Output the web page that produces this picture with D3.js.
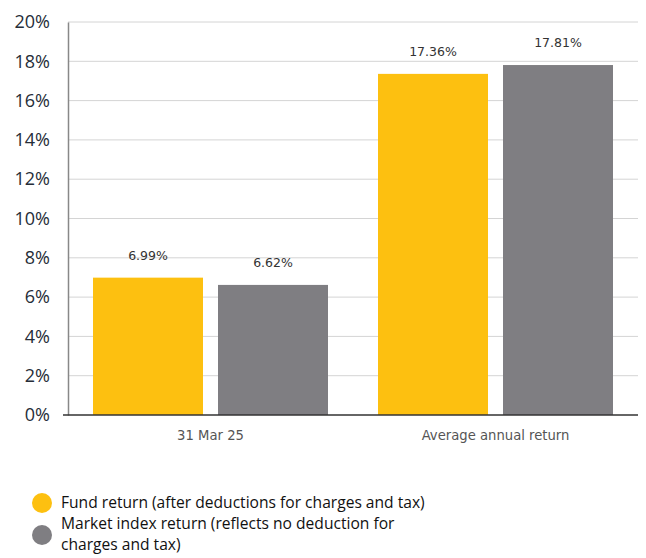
<!DOCTYPE html>
<html><head><meta charset="utf-8">
<script src="https://cdn.jsdelivr.net/npm/d3@7"></script>
<style>body{margin:0;background:#fff}svg{display:block}</style>
</head><body>
<script>
const categories = ["31 Mar 25", "Average annual return"];
const seriesNames = ["Fund return (after deductions for charges and tax)", "Market index return (reflects no deduction for charges and tax)"];
const fundValues = [6.99, 17.36];
const indexValues = [6.62, 17.81];
const yTicks = [0, 2, 4, 6, 8, 10, 12, 14, 16, 18, 20];
const colors = ["#FDC010", "#7F7E82"];

(function(){
const W = 646, H = 558;
const svg = d3.select("body").append("svg").attr("width", W).attr("height", H);
const pl = 68, pr = 638, pt = 22, pb = 415;

const x0 = d3.scaleBand().domain(categories).range([pl, pr]).paddingInner(0).paddingOuter(0);
const x1 = d3.scaleBand().domain([0, 1]).range([25, 260]).paddingInner(0.12);
const y = d3.scaleLinear().domain([0, 20]).range([pb, pt]);

// gridlines
svg.append("g").selectAll("line").data(yTicks.filter(d => d > 0)).join("line")
  .attr("x1", pl).attr("x2", pr)
  .attr("y1", d => y(d)).attr("y2", d => y(d))
  .attr("stroke", "#d4d4d4").attr("stroke-width", 1);

// y-axis
const yAxis = d3.axisLeft(y).tickValues(yTicks).tickFormat(d => d + "%").tickSize(0).tickPadding(18);
const ga = svg.append("g").attr("transform", `translate(${pl},0)`).call(yAxis);
ga.select(".domain").attr("stroke", "#888").attr("stroke-width", 1.5);
ga.selectAll("text").attr("font-family", "'Open Sans', sans-serif").attr("font-size", 18).attr("fill", "#262d38");

const data = categories.map((c, i) => ({cat: c, vals: [fundValues[i], indexValues[i]]}));
const groups = svg.append("g").selectAll("g").data(data).join("g")
  .attr("transform", d => `translate(${x0(d.cat)},0)`);
groups.selectAll("rect").data(d => d.vals.map((v, k) => ({v, k}))).join("rect")
  .attr("x", d => x1(d.k)).attr("width", x1.bandwidth())
  .attr("y", d => y(d.v)).attr("height", d => y(0) - y(d.v))
  .attr("fill", d => colors[d.k]);
groups.selectAll("text.val").data(d => d.vals.map((v, k) => ({v, k}))).join("text")
  .attr("class", "val")
  .attr("x", d => x1(d.k) + x1.bandwidth() / 2).attr("y", d => y(d.v) - 18)
  .attr("text-anchor", "middle")
  .attr("font-family", "'DejaVu Sans', sans-serif").attr("font-size", 12.5).attr("fill", "#333")
  .text(d => d.v.toFixed(2) + "%");

// x-axis
svg.append("line").attr("x1", pl - 5).attr("x2", pr).attr("y1", pb).attr("y2", pb)
  .attr("stroke", "#333").attr("stroke-width", 1.5);
const xAxis = d3.axisBottom(x0).tickSize(0).tickPadding(16);
const gx = svg.append("g").attr("transform", `translate(0,${pb})`).call(xAxis);
gx.select(".domain").remove();
gx.selectAll("text").attr("font-family", "'DejaVu Sans', sans-serif").attr("font-size", 13.2).attr("fill", "#555");

// legend
const leg = svg.append("g");
leg.append("circle").attr("cx", 42).attr("cy", 503).attr("r", 10).attr("fill", colors[0]);
leg.append("circle").attr("cx", 42).attr("cy", 535).attr("r", 10).attr("fill", colors[1]);
const lt = leg.append("text").attr("font-family", "'Open Sans', sans-serif").attr("font-size", 15.6).attr("fill", "#111");
lt.append("tspan").attr("x", 61).attr("y", 508).text(seriesNames[0]);
lt.append("tspan").attr("x", 61).attr("y", 529).text("Market index return (reflects no deduction for");
lt.append("tspan").attr("x", 61).attr("y", 550).text("charges and tax)");
})();
</script>
</body></html>
